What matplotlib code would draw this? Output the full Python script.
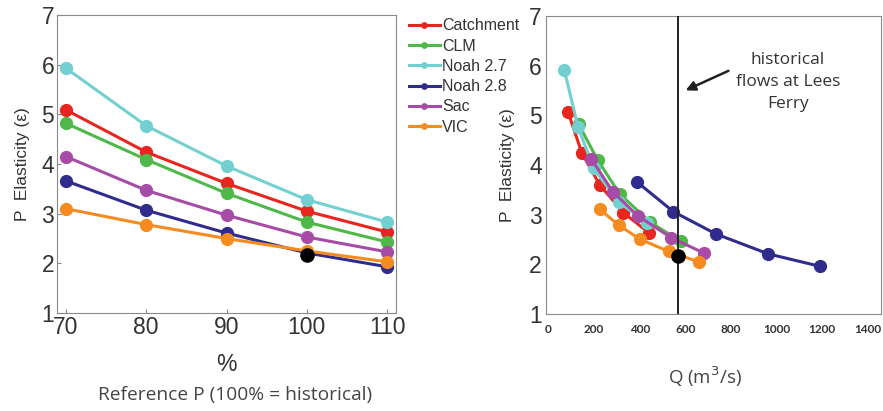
import matplotlib
matplotlib.use("Agg")
import matplotlib.pyplot as plt

plt.rcParams["font.family"] = ["Liberation Sans", "DejaVu Sans"]

models = ["Catchment", "CLM", "Noah 2.7", "Noah 2.8", "Sac", "VIC"]
colors = ["#e8261f", "#4fb848", "#72d0d0", "#2f2c8e", "#a64ca6", "#f68b20"]

ref_pct = [70, 80, 90, 100, 110]
elast = {
    "Catchment": [5.09, 4.24, 3.61, 3.05, 2.63],
    "CLM":       [4.82, 4.09, 3.41, 2.83, 2.43],
    "Noah 2.7":  [5.93, 4.77, 3.96, 3.28, 2.83],
    "Noah 2.8":  [3.66, 3.07, 2.61, 2.21, 1.93],
    "Sac":       [4.15, 3.47, 2.97, 2.53, 2.23],
    "VIC":       [3.10, 2.78, 2.50, 2.25, 2.03],
}
flow = {
    "Catchment": [86, 147, 225, 329, 439],
    "CLM":       [133, 216, 312, 446, 580],
    "Noah 2.7":  [70, 130, 198, 308, 430],
    "Noah 2.8":  [388, 548, 735, 964, 1190],
    "Sac":       [187, 283, 391, 537, 680],
    "VIC":       [225, 308, 400, 527, 658],
}
right_elast = {
    "Catchment": [5.07, 4.24, 3.60, 3.04, 2.64],
    "CLM":       [4.82, 4.10, 3.42, 2.85, 2.46],
    "Noah 2.7":  [5.91, 4.77, 3.93, 3.26, 2.83],
    "Noah 2.8":  [3.66, 3.06, 2.61, 2.21, 1.96],
    "Sac":       [4.13, 3.46, 2.98, 2.54, 2.23],
    "VIC":       [3.11, 2.79, 2.51, 2.26, 2.05],
}
hist_pct, hist_elast = 100, 2.16
hist_q, hist_q_elast = 566, 2.17
left_yticks = [1, 2, 3, 4, 5, 6, 7]
right_xticks = [0, 200, 400, 600, 800, 1000, 1200, 1400]

fig = plt.figure(figsize=(8.83, 4.11), dpi=100)
tick_col = "#333333"
spine_col = "#8a8a8a"

axL = fig.add_axes([0.0646, 0.2384, 0.3839, 0.7251])
for m, c in zip(models, colors):
    axL.plot(ref_pct, elast[m], "-o", color=c, lw=2.2, ms=8.5, label=m, zorder=3)
axL.plot([hist_pct], [hist_elast], "o", color="black", ms=9.5, zorder=5)
axL.set_xlim(68.9, 111.1)
axL.set_ylim(1, 7)
axL.set_xticks(ref_pct)
axL.set_yticks(left_yticks)
axL.tick_params(direction="in", length=3, colors=spine_col, labelcolor=tick_col,
                labelsize=16.5, pad=2)
for s in axL.spines.values():
    s.set_color(spine_col)
axL.set_ylabel("P  Elasticity (\u03b5)", fontsize=12.5, color=tick_col, labelpad=8)
axL.set_xlabel("%", fontsize=16.5, color=tick_col, labelpad=10)
fig.text(0.266, 0.038, "Reference P (100% = historical)", ha="center", va="center",
         fontsize=13.8, color="#444444", family="Open Sans")

leg = axL.legend(loc="upper left", bbox_to_anchor=(1.02, 1.01), frameon=False,
                 fontsize=11.5, handlelength=1.9, handletextpad=0.15,
                 labelspacing=0.33, borderaxespad=0.0, markerscale=0.45)
for t in leg.get_texts():
    t.set_color(tick_col)

axR = fig.add_axes([0.6184, 0.236, 0.3793, 0.725])
for m, c in zip(models, colors):
    axR.plot(flow[m], right_elast[m], "-o", color=c, lw=2.2, ms=8.5, zorder=3)
axR.axvline(hist_q, color="#222222", lw=1.4, zorder=4)
axR.plot([hist_q], [hist_q_elast], "o", color="black", ms=9.5, zorder=5)
axR.set_xlim(-10, 1457)
axR.set_ylim(1, 7)
axR.set_xticks(right_xticks)
axR.set_yticks(left_yticks)
axR.tick_params(axis="y", direction="in", length=0, labelcolor=tick_col, labelsize=16.5, pad=3)
axR.tick_params(axis="x", length=0, labelcolor=tick_col, labelsize=8.5, pad=7)
for lab in axR.get_xticklabels():
    lab.set_fontweight("bold")
    lab.set_family("Lato")
for s in axR.spines.values():
    s.set_color(spine_col)
axR.set_ylabel("P  Elasticity (\u03b5)", fontsize=12.5, color=tick_col, labelpad=10)
axR.set_xlabel("Q (m$^3$/s)", fontsize=13.5, color="#444444", family="Open Sans")
axR.xaxis.set_label_coords(0.475, -0.17)
axR.annotate("", xy=(590, 5.48), xytext=(800, 5.92),
             arrowprops=dict(arrowstyle="-|>", color="#222222", lw=1.8,
                             mutation_scale=14))
axR.text(1050, 5.67, "historical\nflows at Lees\nFerry", ha="center", va="center",
         fontsize=12.5, color="#333333", family="Open Sans", linespacing=1.5)

fig.savefig("out.png", dpi=100)
